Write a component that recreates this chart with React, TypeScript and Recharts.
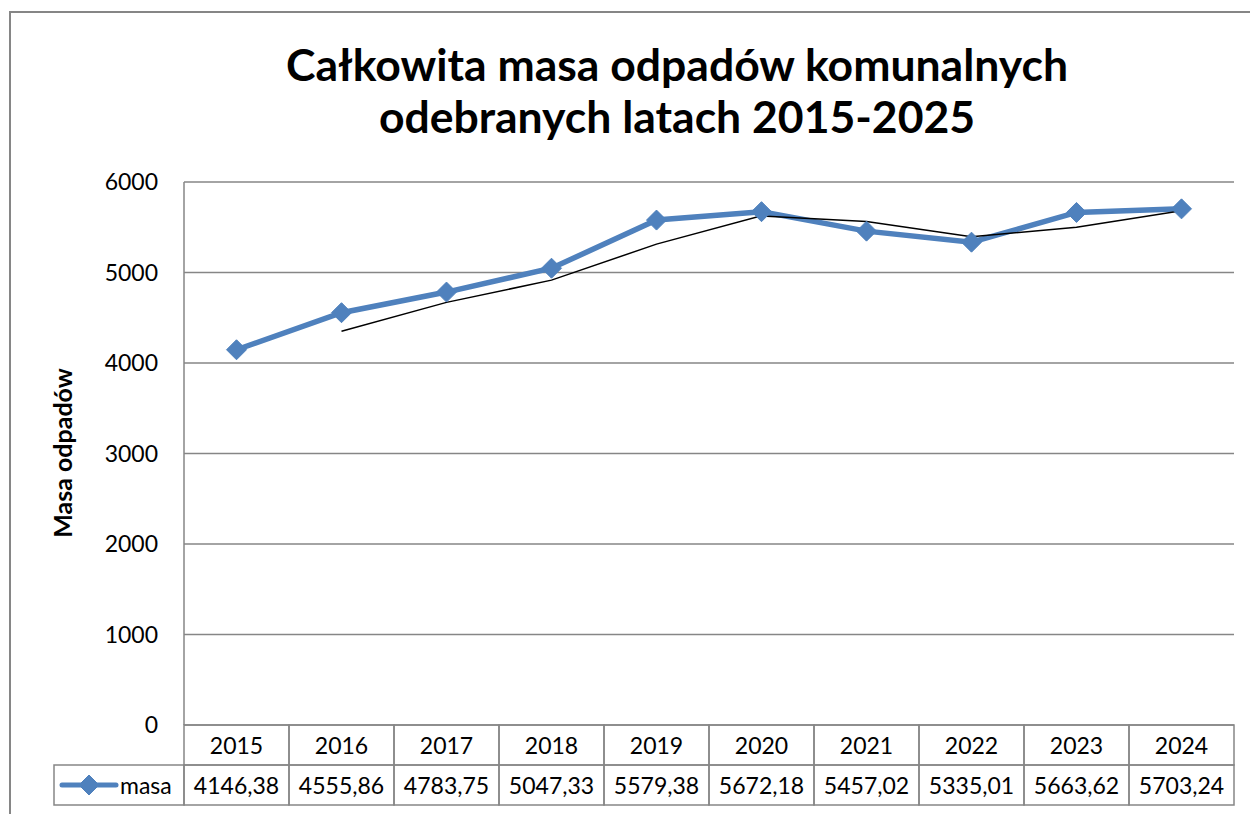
import React from "react"
import { LineChart, Line, XAxis, YAxis, CartesianGrid } from "recharts"

// Dane: masa odpadów komunalnych w kolejnych latach
const lata = ["2015", "2016", "2017", "2018", "2019", "2020", "2021", "2022", "2023", "2024"]
const masa = [4146.38, 4555.86, 4783.75, 5047.33, 5579.38, 5672.18, 5457.02, 5335.01, 5663.62, 5703.24]
// linia trendu (średnia ruchoma, 2 okresy)
const trend = [null, 4351.1, 4669.8, 4915.5, 5313.4, 5625.8, 5564.6, 5396.0, 5499.3, 5683.4]
const yTicks = [0, 1000, 2000, 3000, 4000, 5000, 6000]

const data = lata.map((rok, i) => ({ rok, masa: masa[i], trend: trend[i] }))

const W = 1250
const H = 814
const PLOT_LEFT = 184
const PLOT_RIGHT = 1234
const ROW_H = 40
const BLUE = "#4F81BD"
const GRID = "#868686"
const FONT = "Lato, 'Liberation Sans', sans-serif"
const FS = 23

const bandW = (PLOT_RIGHT - PLOT_LEFT) / lata.length

const fmt = (v: number) => v.toFixed(2).replace(".", ",")

function Diamond({ cx, cy }: { cx?: number; cy?: number }) {
  if (cx == null || cy == null) return null
  const r = 10
  return (
    <polygon
      points={`${cx},${cy - r} ${cx + r},${cy} ${cx},${cy + r} ${cx - r},${cy}`}
      fill={BLUE}
      stroke={BLUE}
    />
  )
}

// komórki tabeli danych pod osią X
function TableTick(props: any) {
  const { x, y, payload, index } = props
  const left = x - bandW / 2
  const value = masa[index]
  return (
    <g>
      <rect x={left} y={y} width={bandW} height={ROW_H} fill="none" stroke={GRID} strokeWidth={1.5} />
      <rect x={left} y={y + ROW_H} width={bandW} height={ROW_H} fill="none" stroke={GRID} strokeWidth={1.5} />
      <text x={x} y={y + ROW_H / 2} textAnchor="middle" dominantBaseline="central" fontSize={FS} fill="#000" fontFamily={FONT}>
        {payload.value}
      </text>
      <text x={x} y={y + ROW_H * 1.5} textAnchor="middle" dominantBaseline="central" fontSize={FS} fill="#000" fontFamily={FONT}>
        {fmt(value)}
      </text>
      {index === 0 && (
        <g>
          <rect x={54} y={y + ROW_H} width={left - 54} height={ROW_H} fill="none" stroke={GRID} strokeWidth={1.5} />
          <line x1={62} x2={116} y1={y + ROW_H * 1.5} y2={y + ROW_H * 1.5} stroke={BLUE} strokeWidth={5} strokeLinecap="round" />
          <Diamond cx={89} cy={y + ROW_H * 1.5} />
          <text x={120} y={y + ROW_H * 1.5} dominantBaseline="central" fontSize={FS} fill="#000" fontFamily={FONT}>
            masa
          </text>
        </g>
      )}
    </g>
  )
}

export default function App() {
  return (
    <div style={{ position: "absolute", left: 0, top: 0, width: W, height: H, background: "#fff", overflow: "hidden", fontFamily: FONT }}>
      <div
        style={{
          position: "absolute",
          left: 9,
          top: 11,
          width: W + 20,
          height: H + 20,
          borderLeft: `2px solid ${GRID}`,
          borderTop: `2px solid ${GRID}`,
        }}
      />
      <div
        style={{
          position: "absolute",
          left: 177,
          width: 1000,
          top: 38,
          textAlign: "center",
          fontWeight: 700,
          fontSize: 44.5,
          lineHeight: "52px",
          color: "#000",
        }}
      >
        Całkowita masa odpadów komunalnych
        <br />
        odebranych latach 2015-2025
      </div>
      <div
        style={{
          position: "absolute",
          left: 62,
          top: 453,
          transform: "translate(-50%, -50%) rotate(-90deg)",
          whiteSpace: "nowrap",
          fontWeight: 700,
          fontSize: 25,
          color: "#000",
        }}
      >
        Masa odpadów
      </div>
      <div style={{ position: "absolute", left: 0, top: 0 }}>
        <LineChart width={W} height={H} data={data} margin={{ top: 182, right: W - PLOT_RIGHT, bottom: 9, left: PLOT_LEFT - 60 }}>
          <CartesianGrid vertical={false} stroke={GRID} strokeWidth={1.5} />
          <XAxis
            dataKey="rok"
            scale="band"
            height={80}
            axisLine={false}
            tickLine={false}
            tickSize={0}
            tickMargin={0}
            interval={0}
            tick={<TableTick />}
          />
          <YAxis
            width={60}
            domain={[0, 6000]}
            ticks={yTicks}
            axisLine={{ stroke: GRID, strokeWidth: 1.5 }}
            tickLine={false}
            tickMargin={20}
            tick={{ fontSize: FS, fill: "#000", fontFamily: FONT }}
          />
          <Line
            dataKey="masa"
            stroke={BLUE}
            strokeWidth={5.5}
            dot={<Diamond />}
            activeDot={false}
            isAnimationActive={false}
          />
          <Line
            dataKey="trend"
            stroke="#000"
            strokeWidth={1.5}
            dot={false}
            activeDot={false}
            isAnimationActive={false}
          />
        </LineChart>
      </div>
    </div>
  )
}
